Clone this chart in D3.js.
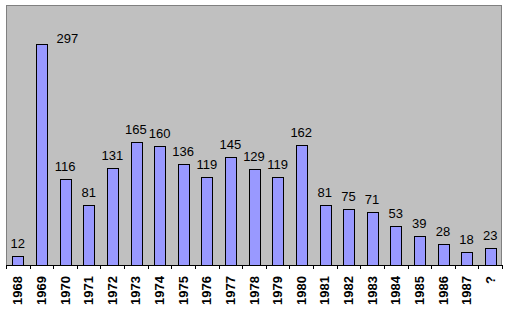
<!DOCTYPE html>
<html>
<head>
<meta charset="utf-8">
<script src="https://cdn.jsdelivr.net/npm/d3@7"></script>
<style>
  html, body { margin: 0; padding: 0; background: #ffffff; }
  svg { display: block; }
</style>
</head>
<body>
<svg id="chart" width="510" height="323"></svg>
<script>
// Yearly counts, with one bar for entries of unknown year
const years = ["1968", "1969", "1970", "1971", "1972", "1973", "1974", "1975", "1976", "1977",
               "1978", "1979", "1980", "1981", "1982", "1983", "1984", "1985", "1986", "1987", "?"];
const counts = [12, 297, 116, 81, 131, 165, 160, 136, 119, 145,
                129, 119, 162, 81, 75, 71, 53, 39, 28, 18, 23];
const yDomain = [0, 350];

const svg = d3.select("#chart");
const plot = { left: 6, top: 5, right: 502, bottom: 265 };

const x = d3.scaleBand()
  .domain(years)
  .range([plot.left, plot.right])
  .paddingInner(0.55)
  .paddingOuter(0.275);

const y = d3.scaleLinear().domain(yDomain).range([plot.bottom, plot.top]);

// Plot area
svg.append("rect")
  .attr("x", plot.left + 0.5).attr("y", plot.top + 0.5)
  .attr("width", plot.right - plot.left - 1).attr("height", plot.bottom - plot.top)
  .attr("fill", "#c0c0c0")
  .attr("stroke", "#808080").attr("stroke-width", 1);

// Bars
svg.append("g").selectAll("rect")
  .data(years.map((yr, i) => ({ yr, v: counts[i] })))
  .join("rect")
  .attr("x", d => Math.round(x(d.yr)) + 0.5)
  .attr("y", d => Math.round(y(d.v)) + 0.5)
  .attr("width", Math.round(x.bandwidth()))
  .attr("height", d => Math.round(y(0)) - Math.round(y(d.v)))
  .attr("fill", "#9999ff")
  .attr("stroke", "#000000")
  .attr("stroke-width", 1);

// Value labels (the tallest one sits beside its bar)
svg.append("g").selectAll("text")
  .data(years.map((yr, i) => ({ yr, v: counts[i] })))
  .join("text")
  .attr("x", d => x(d.yr) + x.bandwidth() / 2 + (d.v === d3.max(counts) ? 26 : 0))
  .attr("y", d => y(d.v) - (d.v === d3.max(counts) ? 1 : 8))
  .attr("text-anchor", "middle")
  .attr("font-family", "Arial, 'Liberation Sans', sans-serif")
  .attr("font-size", 13)
  .attr("fill", "#000000")
  .text(d => d.v);

// Category axis
const xAxis = d3.axisBottom(x).tickSize(0).tickPadding(0);
const gx = svg.append("g").attr("transform", `translate(0,${plot.bottom})`).call(xAxis);
gx.select(".domain").remove();
gx.append("line")
  .attr("x1", plot.left).attr("x2", plot.right)
  .attr("y1", 0.5).attr("y2", 0.5)
  .attr("stroke", "#000000");
const step = x.step();
gx.selectAll(".cat-tick")
  .data(d3.range(years.length + 1))
  .join("line")
  .attr("class", "cat-tick")
  .attr("x1", i => Math.round(plot.left + i * step) + 0.5)
  .attr("x2", i => Math.round(plot.left + i * step) + 0.5)
  .attr("y1", 0).attr("y2", 4)
  .attr("stroke", "#000000");
gx.selectAll(".tick text")
  .attr("transform", "rotate(-90)")
  .attr("x", -11)
  .attr("y", 0)
  .attr("dy", "0.35em")
  .attr("text-anchor", "end")
  .attr("font-family", "Arial, 'Liberation Sans', sans-serif")
  .attr("font-size", 13)
  .attr("font-weight", "bold")
  .attr("fill", "#000000");
</script>
</body>
</html>
